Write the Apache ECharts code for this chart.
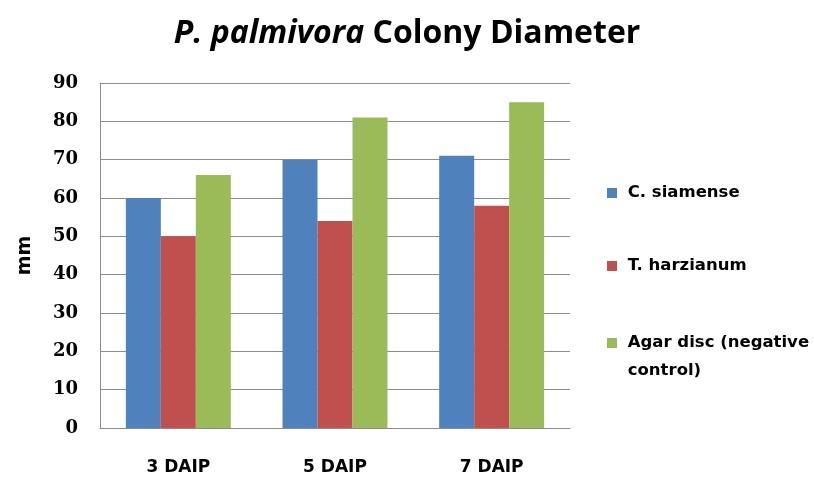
<!DOCTYPE html>
<html>
<head>
<meta charset="utf-8">
<script src="https://cdn.jsdelivr.net/npm/echarts@6/dist/echarts.min.js"></script>
<style>html,body{margin:0;padding:0;background:#fff}#c{width:814px;height:477px}</style>
</head>
<body>
<div id="c"></div>
<script>
const categories = ['3 DAIP', '5 DAIP', '7 DAIP'];
const seriesNames = ['C. siamense', 'T. harzianum', 'Agar disc (negative\ncontrol)'];
const cSiamense = [60, 70, 71];
const tHarzianum = [50, 54, 58];
const agarDisc = [66, 81, 85];
const yTicks = { min: 0, max: 90, interval: 10 };

const colors = ['#4F81BD', '#C0504D', '#9BBB59'];
const values = [cSiamense, tHarzianum, agarDisc];
const sans = 'DejaVu Sans';

const chart = echarts.init(document.getElementById('c'), null, { renderer: 'canvas' });

const legendTops = [179, 252, 301];
const legends = seriesNames.map((n, i) => ({
  data: [n],
  left: 607,
  top: legendTops[i],
  padding: 0,
  icon: 'rect',
  itemWidth: 10,
  itemHeight: 10,
  selectedMode: false,
  formatter: function (name) {
    const s = ' ' + name.replace(/\n/g, '\n ');
    return name.indexOf('\n') >= 0 ? '\n' + s : s;
  },
  textStyle: { fontFamily: sans, fontWeight: 'bold', fontSize: 16.5, color: '#000', lineHeight: 28 }
}));

chart.setOption({
  animation: false,
  backgroundColor: '#fff',
  title: {
    text: '{i|P. palmivora}{b| Colony Diameter}',
    left: 'center',
    top: 13,
    textStyle: {
      rich: {
        i: { fontFamily: 'Open Sans', fontStyle: 'italic', fontWeight: 'bold', fontSize: 32, color: '#000' },
        b: { fontFamily: 'Open Sans', fontWeight: 'bold', fontSize: 32, color: '#000' }
      }
    }
  },
  legend: legends,
  grid: { left: 100, right: 244, top: 83, bottom: 49, containLabel: false },
  xAxis: {
    type: 'category',
    data: categories,
    axisLine: { lineStyle: { color: '#8c8c8c', width: 1 } },
    axisTick: { show: false },
    axisLabel: { fontFamily: sans, fontWeight: 'bold', fontSize: 17, color: '#000', margin: 31 }
  },
  yAxis: {
    type: 'value',
    min: yTicks.min,
    max: yTicks.max,
    interval: yTicks.interval,
    name: 'mm',
    nameLocation: 'middle',
    nameRotate: 90,
    nameGap: 65,
    nameTextStyle: { fontFamily: sans, fontWeight: 'bold', fontSize: 19, color: '#000' },
    axisLine: { show: true, lineStyle: { color: '#8c8c8c', width: 1 } },
    axisTick: { show: false },
    splitLine: { lineStyle: { color: '#8c8c8c', width: 1 } },
    axisLabel: { fontFamily: 'DejaVu Serif', fontWeight: 'bold', fontSize: 18, color: '#000', margin: 22 }
  },
  series: seriesNames.map((n, i) => ({
    name: n,
    type: 'bar',
    data: values[i],
    barGap: '0%',
    barCategoryGap: '33%',
    itemStyle: { color: colors[i] }
  }))
});
</script>
</body>
</html>
